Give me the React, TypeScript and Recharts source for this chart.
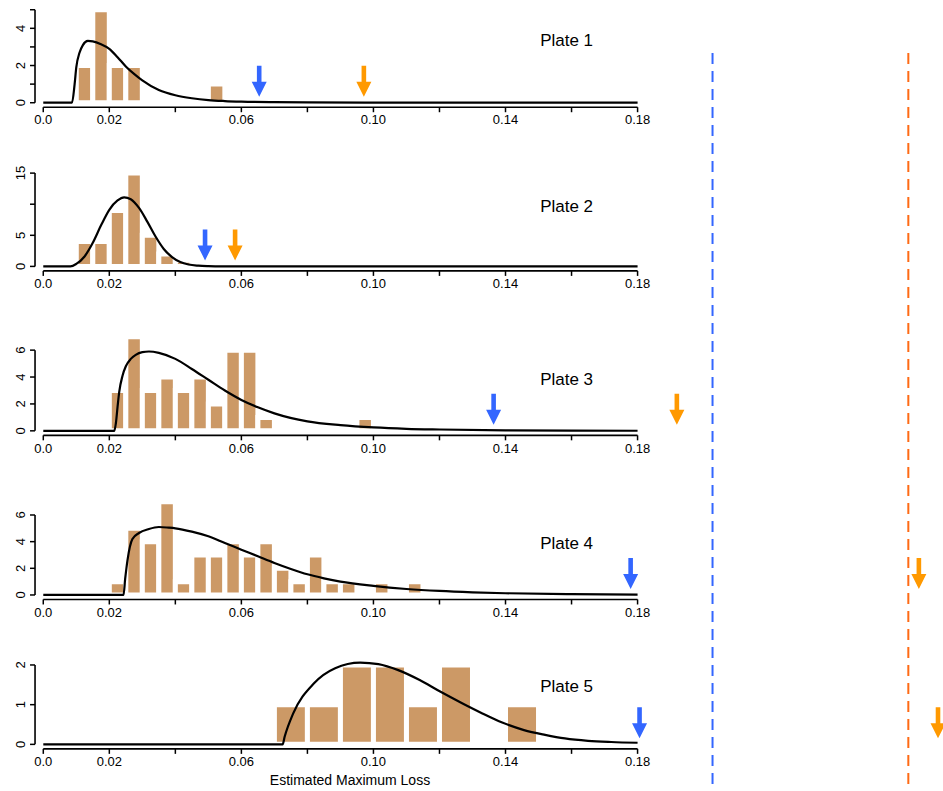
import React from 'react';
import { ComposedChart, Line, XAxis, YAxis, ReferenceArea, ReferenceLine, ReferenceDot } from 'recharts';

const FONT = '"Liberation Sans", Arial, Helvetica, sans-serif';
const BAR = '#CC9966';
const BLUE = '#3366FF';
const ORANGE = '#FF9900';
const DASH_ORANGE = '#FF6A14';

const X_DOMAIN: [number, number] = [-0.0025, 0.2725];
const xTicks = [0, 0.02, 0.04, 0.06, 0.08, 0.1, 0.12, 0.14, 0.16, 0.18];
const xLabels = ['0.0', '0.02', '', '0.06', '', '0.10', '', '0.14', '', '0.18'];

// Plate 1
const p1CurveX = [0, 0.0087, 0.0095, 0.01, 0.011, 0.012, 0.0135, 0.015, 0.0175, 0.02, 0.0225, 0.025, 0.0275, 0.03, 0.035, 0.04, 0.045, 0.05, 0.055, 0.06, 0.07, 0.08, 0.1, 0.12, 0.18];
const p1CurveY = [0, 0, 1.0, 1.9, 2.7, 3.1, 3.32, 3.3, 3.15, 2.9, 2.45, 1.95, 1.55, 1.2, 0.68, 0.4, 0.24, 0.14, 0.09, 0.06, 0.03, 0.015, 0.005, 0, 0];
const p1BinStart = [0.01, 0.015, 0.02, 0.025, 0.05];
const p1Counts = [2, 5, 2, 2, 1];

// Plate 2
const p2CurveX = [0, 0.0082, 0.01, 0.0125, 0.015, 0.0175, 0.02, 0.0225, 0.0245, 0.0265, 0.029, 0.0315, 0.034, 0.0365, 0.039, 0.0415, 0.044, 0.047, 0.05, 0.055, 0.06, 0.18];
const p2CurveY = [0, 0, 0.4, 1.6, 3.8, 6.6, 9.1, 10.6, 11.1, 10.8, 9.4, 7.2, 4.8, 2.8, 1.5, 0.7, 0.3, 0.12, 0.05, 0.01, 0, 0];
const p2BinStart = [0.01, 0.015, 0.02, 0.025, 0.03, 0.035, 0.04];
const p2Counts = [4, 4, 9, 15, 5, 2, 1];

// Plate 3
const p3CurveX = [0, 0.0215, 0.022, 0.0225, 0.023, 0.024, 0.025, 0.0265, 0.028, 0.03, 0.032, 0.035, 0.04, 0.045, 0.05, 0.055, 0.06, 0.065, 0.07, 0.08, 0.09, 0.1, 0.11, 0.12, 0.14, 0.16, 0.18];
const p3CurveY = [0, 0, 0.6, 1.8, 2.9, 4.1, 4.8, 5.35, 5.65, 5.85, 5.9, 5.8, 5.35, 4.6, 3.8, 3.0, 2.3, 1.75, 1.3, 0.7, 0.42, 0.25, 0.15, 0.1, 0.04, 0.015, 0.005];
const p3BinStart = [0.02, 0.025, 0.03, 0.035, 0.04, 0.045, 0.05, 0.055, 0.06, 0.065, 0.095];
const p3Counts = [3, 7, 3, 4, 3, 4, 2, 6, 6, 1, 1];

// Plate 4
const p4CurveX = [0, 0.0243, 0.0248, 0.0255, 0.027, 0.029, 0.032, 0.035, 0.038, 0.04, 0.045, 0.05, 0.055, 0.06, 0.065, 0.07, 0.075, 0.08, 0.085, 0.09, 0.1, 0.11, 0.12, 0.13, 0.14, 0.16, 0.18];
const p4CurveY = [0, 0, 1.2, 2.6, 4.2, 4.65, 4.95, 5.1, 5.05, 5.0, 4.75, 4.4, 3.9, 3.4, 2.9, 2.4, 1.95, 1.55, 1.25, 1.0, 0.68, 0.45, 0.3, 0.2, 0.13, 0.06, 0.03];
const p4BinStart = [0.02, 0.025, 0.03, 0.035, 0.04, 0.045, 0.05, 0.055, 0.06, 0.065, 0.07, 0.075, 0.08, 0.085, 0.09, 0.1, 0.11];
const p4Counts = [1, 5, 4, 7, 1, 3, 3, 4, 3, 4, 2, 1, 3, 1, 1, 1, 1];

// Plate 5
const p5CurveX = [0, 0.0725, 0.0731, 0.0757, 0.082, 0.0884, 0.096, 0.1015, 0.1075, 0.114, 0.1202, 0.127, 0.133, 0.139, 0.1456, 0.152, 0.158, 0.165, 0.172, 0.18];
const p5CurveY = [0, 0, 0.19, 0.78, 1.54, 1.92, 2.06, 2.02, 1.87, 1.62, 1.33, 1.03, 0.78, 0.55, 0.36, 0.24, 0.15, 0.09, 0.06, 0.04];
const p5BinStart = [0.07, 0.08, 0.09, 0.1, 0.11, 0.12, 0.14];
const p5Counts = [1, 1, 2, 2, 1, 2, 1];

const plateNames = ['Plate 1', 'Plate 2', 'Plate 3', 'Plate 4', 'Plate 5'];
const blueArrows = [0.0654, 0.049, 0.1364, 0.1779, 0.1806];
const orangeArrows = [0.0971, 0.0581, 0.1919, 0.2652, 0.271];
const blueLimit = 0.2027;
const orangeLimit = 0.262;

const panels = [
  { curveX: p1CurveX, curveY: p1CurveY, bins: p1BinStart, counts: p1Counts, binW: 0.005, yTicks: [0, 1, 2, 3, 4, 5], yShown: [0, 2, 4], yMax: 5.2, zeroPx: 102.3, ppu: 18.6, labelY: 3.4 },
  { curveX: p2CurveX, curveY: p2CurveY, bins: p2BinStart, counts: p2Counts, binW: 0.005, yTicks: [0, 5, 10, 15], yShown: [0, 5, 15], yMax: 15.5, zeroPx: 266.7, ppu: 6.22, labelY: 9.76 },
  { curveX: p3CurveX, curveY: p3CurveY, bins: p3BinStart, counts: p3Counts, binW: 0.005, yTicks: [0, 2, 4, 6], yShown: [0, 2, 4, 6], yMax: 7.2, zeroPx: 431, ppu: 13.45, labelY: 3.87 },
  { curveX: p4CurveX, curveY: p4CurveY, bins: p4BinStart, counts: p4Counts, binW: 0.005, yTicks: [0, 2, 4, 6], yShown: [0, 2, 4, 6], yMax: 7.2, zeroPx: 595, ppu: 13.33, labelY: 3.9 },
  { curveX: p5CurveX, curveY: p5CurveY, bins: p5BinStart, counts: p5Counts, binW: 0.01, yTicks: [0, 1, 2], yShown: [0, 1, 2], yMax: 2.1, zeroPx: 744.3, ppu: 39.7, labelY: 1.47 },
];

const AXIS_GAP = 4.5;
const TOP_PAD = 5;
const XAXIS_H = 30;

const arrowShape = (color: string) => (p: any) => {
  const { cx, cy } = p;
  const tip = cy - 6;
  const headTop = tip - 15;
  const top = tip - 31;
  return (
    <path
      d={`M${cx - 2.3},${top} L${cx + 2.3},${top} L${cx + 2.3},${headTop} L${cx + 7.5},${headTop} L${cx},${tip} L${cx - 7.5},${headTop} L${cx - 2.3},${headTop} Z`}
      fill={color}
    />
  );
};

const plateText = (name: string) => (p: any) => (
  <text x={p.cx} y={p.cy} dy="0.36em" textAnchor="middle" fontSize={17} fontFamily={FONT} fill="#000">
    {name}
  </text>
);

const Panel = ({ cfg, idx }: { cfg: any; idx: number }) => {
  const yMin = -AXIS_GAP / cfg.ppu;
  const plotTop = cfg.zeroPx - cfg.yMax * cfg.ppu;
  const plotH = (cfg.yMax - yMin) * cfg.ppu;
  const data = cfg.curveX.map((x: number, i: number) => ({ x, y: cfg.curveY[i] }));
  const yTop = cfg.yTicks[cfg.yTicks.length - 1];

  return (
    <div style={{ position: 'absolute', left: 0, top: plotTop - TOP_PAD }}>
      <ComposedChart
        width={943}
        height={TOP_PAD + plotH + XAXIS_H}
        data={data}
        margin={{ top: TOP_PAD, right: 0, bottom: 0, left: 0 }}
      >
        <XAxis
          type="number"
          dataKey="x"
          domain={X_DOMAIN}
          ticks={xTicks}
          interval={0}
          allowDataOverflow
          axisLine={false}
          tickSize={5}
          tickMargin={3}
          tickLine={{ stroke: '#000', strokeWidth: 1.5 }}
          tick={{ fontSize: 13, fill: '#000', fontFamily: FONT }}
          tickFormatter={(v: number) => xLabels[xTicks.findIndex((t) => Math.abs(t - v) < 1e-9)] ?? ''}
          height={XAXIS_H}
        />
        <YAxis
          type="number"
          domain={[yMin, cfg.yMax]}
          ticks={cfg.yTicks}
          interval={0}
          allowDataOverflow
          width={35}
          axisLine={false}
          tickSize={5}
          tickLine={{ stroke: '#000', strokeWidth: 1.5 }}
          tick={(p: any) => {
            const v = p.payload.value;
            const tx = p.x - 3;
            return (
              <text
                x={tx}
                y={p.y}
                transform={`rotate(-90 ${tx} ${p.y})`}
                textAnchor="middle"
                fontSize={13}
                fontFamily={FONT}
                fill="#000"
              >
                {cfg.yShown.includes(v) ? String(v) : ''}
              </text>
            );
          }}
        />
        {cfg.bins.map((b: number, i: number) => (
          <ReferenceArea
            key={`bin-${i}`}
            x1={b}
            x2={b + cfg.binW}
            y1={0}
            y2={cfg.counts[i]}
            fill={BAR}
            fillOpacity={1}
            stroke="#fff"
            strokeWidth={5}
            ifOverflow="visible"
          />
        ))}
        <ReferenceLine
          segment={[{ x: 0, y: yMin }, { x: 0.18, y: yMin }]}
          stroke="#000"
          strokeWidth={1.6}
          ifOverflow="visible"
        />
        <ReferenceLine
          segment={[{ x: X_DOMAIN[0], y: 0 }, { x: X_DOMAIN[0], y: yTop }]}
          stroke="#000"
          strokeWidth={1.6}
          ifOverflow="visible"
        />
        <Line
          type="monotone"
          dataKey="y"
          stroke="#000"
          strokeWidth={2.2}
          dot={false}
          activeDot={false}
          isAnimationActive={false}
        />
        <ReferenceDot x={blueArrows[idx]} y={0} ifOverflow="visible" shape={arrowShape(BLUE)} />
        <ReferenceDot x={orangeArrows[idx]} y={0} ifOverflow="visible" shape={arrowShape(ORANGE)} />
        <ReferenceDot x={0.1585} y={cfg.labelY} ifOverflow="visible" shape={plateText(plateNames[idx])} />
      </ComposedChart>
    </div>
  );
};

const limitData = [
  { x: blueLimit, y: 0 },
  { x: orangeLimit, y: 1 },
];

export default function App() {
  const overlayTop = 53;
  return (
    <div style={{ position: 'absolute', left: 0, top: 0, width: 943, height: 791, background: '#fff', overflow: 'hidden' }}>
      {panels.map((cfg, i) => (
        <Panel key={i} cfg={cfg} idx={i} />
      ))}
      <div style={{ position: 'absolute', left: 0, top: overlayTop, pointerEvents: 'none' }}>
        <ComposedChart
          width={943}
          height={791 - overlayTop}
          data={limitData}
          margin={{ top: 0, right: 0, bottom: 0, left: 35 }}
        >
          <XAxis type="number" dataKey="x" domain={X_DOMAIN} allowDataOverflow hide />
          <YAxis type="number" domain={[0, 1]} allowDataOverflow hide />
          <Line dataKey="y" stroke="none" dot={false} activeDot={false} isAnimationActive={false} />
          <ReferenceLine
            segment={[{ x: blueLimit, y: 1 }, { x: blueLimit, y: 0 }]}
            stroke={BLUE}
            strokeWidth={2}
            strokeDasharray="11 7"
            ifOverflow="visible"
          />
          <ReferenceLine
            segment={[{ x: orangeLimit, y: 1 }, { x: orangeLimit, y: 0 }]}
            stroke={DASH_ORANGE}
            strokeWidth={2}
            strokeDasharray="11 7"
            ifOverflow="visible"
          />
        </ComposedChart>
      </div>
      <div
        style={{
          position: 'absolute',
          left: 250,
          width: 200,
          top: 771,
          textAlign: 'center',
          fontFamily: FONT,
          fontSize: 14,
          color: '#000',
          lineHeight: '18px',
        }}
      >
        Estimated Maximum Loss
      </div>
    </div>
  );
}
